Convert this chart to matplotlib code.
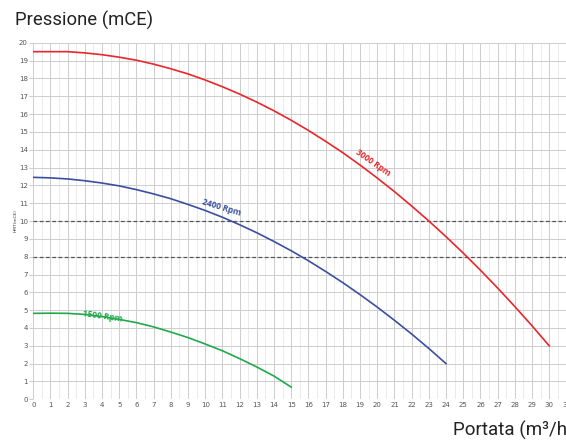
import matplotlib
matplotlib.use("Agg")
import matplotlib.pyplot as plt
from matplotlib.ticker import MultipleLocator

# Data
x_3000 = list(range(0, 31))
h_3000 = [19.50, 19.50, 19.50, 19.43, 19.33, 19.19, 19.02, 18.80, 18.54, 18.25,
          17.91, 17.53, 17.12, 16.67, 16.18, 15.65, 15.08, 14.47, 13.83, 13.14,
          12.41, 11.65, 10.84, 10.00, 9.12, 8.20, 7.24, 6.24, 5.20, 4.12, 3.00]
x_2400 = list(range(0, 25))
h_2400 = [12.45, 12.42, 12.36, 12.26, 12.13, 11.97, 11.76, 11.52, 11.25, 10.93,
          10.59, 10.21, 9.79, 9.34, 8.85, 8.33, 7.77, 7.17, 6.54, 5.87,
          5.17, 4.43, 3.66, 2.85, 2.00]
x_1500 = list(range(0, 16))
h_1500 = [4.82, 4.83, 4.82, 4.76, 4.64, 4.48, 4.30, 4.06, 3.77, 3.46,
          3.10, 2.72, 2.28, 1.81, 1.30, 0.68]
ref_lines = [10, 8]
x_ticks = list(range(0, 32))
y_ticks = list(range(0, 21))

fig = plt.figure(figsize=(5.66, 4.44), dpi=100)
ax = fig.add_axes([0.0588, 0.1007, 0.942, 0.803])
ax.set_xlim(0, 31)
ax.set_ylim(0, 20)

ax.set_xticks(x_ticks)
ax.set_yticks(y_ticks)
ax.xaxis.set_minor_locator(MultipleLocator(0.5))
ax.grid(which="major", color="#cdcdcd", linewidth=0.7)
ax.grid(which="minor", axis="x", color="#ebebeb", linewidth=0.7)
ax.set_axisbelow(True)
for s in ax.spines.values():
    s.set_visible(False)
ax.tick_params(axis="x", which="both", length=0, labelsize=5, labelcolor="#555555", pad=2)
ax.tick_params(axis="y", which="major", length=3, color="#cdcdcd", labelsize=5,
               labelcolor="#555555", pad=1)
ax.tick_params(axis="y", which="minor", length=0)

for yv in ref_lines:
    ax.axhline(yv, color="#555555", linewidth=0.9, linestyle=(0, (3, 2)))

ax.plot(x_3000, h_3000, color="#e8262b", linewidth=1.2)
ax.plot(x_2400, h_2400, color="#3a4fa0", linewidth=1.2)
ax.plot(x_1500, h_1500, color="#20a94a", linewidth=1.2)

ax.text(19.75, 13.25, "3000 Rpm", color="#e8262b", fontsize=6, fontweight="bold",
        rotation=-35, ha="center", va="center", family="Open Sans")
ax.text(10.95, 10.75, "2400 Rpm", color="#3a4fa0", fontsize=6, fontweight="bold",
        rotation=-17, ha="center", va="center", family="Open Sans")
ax.text(4.05, 4.68, "1500 Rpm", color="#20a94a", fontsize=6, fontweight="bold",
        rotation=-8, ha="center", va="center", family="Open Sans")

fig.text(15.5 / 566, 1 - 221 / 444, "HMT(mCE)", rotation=90, fontsize=3.2,
         color="#333333", ha="center", va="center")

fig.text(15 / 566, 1 - 20 / 444, "Pressione (mCE)", fontsize=13.3, family="Roboto",
         color="#222222", ha="left", va="center")
fig.text(453 / 566, 1 - 430 / 444, "Portata (m³/h)", fontsize=13.5, family="Roboto",
         color="#222222", ha="left", va="center")

fig.savefig("out.png", dpi=100)
